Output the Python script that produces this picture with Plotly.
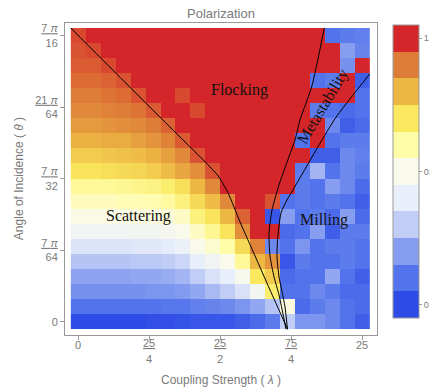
import plotly.graph_objects as go

# ---- grid (coupling strength lambda, angle of incidence theta) ----
lambda_values = [0.0, 1.3158, 2.6316, 3.9474, 5.2632, 6.5789, 7.8947, 9.2105, 10.5263, 11.8421,
                 13.1579, 14.4737, 15.7895, 17.1053, 18.4211, 19.7368, 21.0526, 22.3684, 23.6842, 25.0]
theta_values = [0.0, 0.07234, 0.14468, 0.21702, 0.28936, 0.36170, 0.43404, 0.50638, 0.57871, 0.65105,
                0.72339, 0.79573, 0.86807, 0.94041, 1.01275, 1.08509, 1.15743, 1.22977, 1.30211, 1.37445]

# polarization, one row per theta (bottom row first), one value per lambda
polarization = [
    [0.0, 0.0, 0.0, 0.0, 0.0, 0.01, 0.01, 0.02, 0.03, 0.03, 0.03, 0.05, 0.08, 0.12, 0.3, 0.18, 0.18, 0.15, 0.1, 0.05],
    [0.1, 0.1, 0.1, 0.1, 0.1, 0.1, 0.11, 0.11, 0.13, 0.14, 0.15, 0.18, 0.22, 0.28, 0.52, 0.08, 0.12, 0.15, 0.1, 0.08],
    [0.17, 0.17, 0.17, 0.17, 0.17, 0.18, 0.18, 0.19, 0.22, 0.26, 0.3, 0.36, 0.46, 0.68, 0.1, 0.1, 0.15, 0.12, 0.08, 0.08],
    [0.21, 0.21, 0.21, 0.21, 0.22, 0.22, 0.23, 0.25, 0.3, 0.36, 0.4, 0.48, 0.7, 0.76, 0.08, 0.1, 0.1, 0.22, 0.1, 0.05],
    [0.28, 0.28, 0.28, 0.28, 0.29, 0.29, 0.3, 0.33, 0.4, 0.45, 0.5, 0.62, 0.8, 0.86, 0.03, 0.12, 0.1, 0.1, 0.12, 0.1],
    [0.37, 0.37, 0.37, 0.37, 0.38, 0.38, 0.39, 0.42, 0.5, 0.54, 0.6, 0.73, 0.89, 0.15, 0.1, 0.18, 0.1, 0.12, 0.12, 0.1],
    [0.45, 0.45, 0.45, 0.45, 0.46, 0.46, 0.47, 0.5, 0.56, 0.63, 0.71, 0.87, 1.0, 1.0, 0.08, 0.1, 0.2, 0.05, 0.12, 0.12],
    [0.51, 0.51, 0.51, 0.51, 0.52, 0.52, 0.53, 0.56, 0.66, 0.71, 0.8, 0.93, 1.0, 0.03, 0.2, 0.1, 0.12, 0.08, 0.2, 0.08],
    [0.57, 0.57, 0.57, 0.58, 0.58, 0.59, 0.61, 0.66, 0.73, 0.79, 0.88, 1.0, 1.0, 0.95, 0.1, 0.12, 0.1, 0.12, 0.1, 0.05],
    [0.62, 0.62, 0.62, 0.63, 0.64, 0.65, 0.68, 0.72, 0.8, 0.88, 1.0, 1.0, 1.0, 1.0, 1.0, 0.12, 0.1, 0.2, 0.15, 0.08],
    [0.71, 0.71, 0.72, 0.73, 0.74, 0.76, 0.79, 0.83, 0.87, 0.95, 1.0, 1.0, 1.0, 1.0, 1.0, 0.12, 0.25, 0.1, 0.15, 0.12],
    [0.76, 0.76, 0.77, 0.78, 0.79, 0.81, 0.84, 0.88, 0.95, 1.0, 1.0, 1.0, 1.0, 1.0, 1.0, 1.0, 0.05, 0.05, 0.15, 0.13],
    [0.81, 0.81, 0.82, 0.82, 0.84, 0.86, 0.89, 0.94, 1.0, 1.0, 1.0, 1.0, 1.0, 1.0, 1.0, 0.1, 1.0, 0.1, 0.12, 0.12],
    [0.85, 0.85, 0.86, 0.87, 0.88, 0.9, 0.93, 1.0, 1.0, 1.0, 1.0, 1.0, 1.0, 1.0, 1.0, 1.0, 1.0, 0.15, 0.05, 0.08],
    [0.88, 0.88, 0.89, 0.9, 0.91, 0.94, 1.0, 1.0, 0.96, 1.0, 1.0, 1.0, 1.0, 1.0, 1.0, 1.0, 0.12, 0.1, 0.08, 0.1],
    [0.9, 0.9, 0.91, 0.92, 0.95, 1.0, 1.0, 0.96, 1.0, 1.0, 1.0, 1.0, 1.0, 1.0, 1.0, 1.0, 1.0, 1.0, 1.0, 0.1],
    [0.92, 0.92, 0.93, 0.95, 1.0, 1.0, 1.0, 1.0, 1.0, 1.0, 1.0, 1.0, 1.0, 1.0, 1.0, 1.0, 0.1, 0.12, 1.0, 0.05],
    [0.94, 0.94, 0.96, 1.0, 1.0, 1.0, 1.0, 1.0, 1.0, 1.0, 1.0, 1.0, 1.0, 1.0, 1.0, 1.0, 1.0, 1.0, 0.17, 1.0],
    [0.95, 0.96, 1.0, 1.0, 1.0, 1.0, 1.0, 1.0, 1.0, 1.0, 1.0, 1.0, 1.0, 1.0, 1.0, 1.0, 1.0, 1.0, 0.2, 0.14],
    [0.96, 1.0, 1.0, 1.0, 1.0, 1.0, 1.0, 1.0, 1.0, 1.0, 1.0, 1.0, 1.0, 1.0, 1.0, 1.0, 1.0, 0.1, 0.12, 0.13],
]

# phase boundaries (lambda, theta)
scatter_flock_lam = [-0.658, 3.671, 8.072, 11.153, 12.298, 13.178, 14.234, 15.555, 16.875, 18.42]
scatter_flock_theta = [1.4106, 1.174, 0.9346, 0.7683, 0.701, 0.6192, 0.4793, 0.3159, 0.1524, -0.0362]
flock_meta_lam = [21.655, 20.546, 19.516, 19.076, 18.284, 17.667, 17.051, 16.787, 16.875, 17.227, 17.667, 18.28]
flock_meta_theta = [1.4106, 1.1298, 0.9697, 0.8736, 0.7534, 0.6572, 0.537, 0.4264, 0.3159, 0.2149, 0.1284, -0.0362]
meta_mill_lam = [25.658, 22.597, 19.56, 18.9, 18.371, 17.843, 17.535, 17.491, 17.667, 17.905, 18.195, 18.41]
meta_mill_theta = [1.19, 0.975, 0.6957, 0.6332, 0.5851, 0.5226, 0.3928, 0.3111, 0.2149, 0.1524, 0.0707, -0.0362]

x_tick_vals = [0, 6.25, 12.5, 18.75, 25]
x_tick_num = ["0", "25", "25", "75", "25"]
x_tick_den = ["", "4", "2", "4", ""]
y_tick_vals = [0, 0.343612, 0.687223, 1.030835, 1.374447]
y_tick_text = ["0", "<u>7 <i>π</i></u><br>64", "<u>7 <i>π</i></u><br>32", "<u>21 <i>π</i></u><br>64", "<u>7 <i>π</i></u><br>16"]

region_labels = ["Flocking", "Scattering", "Milling", "Metastability"]
region_lam = [14.23, 5.28, 21.63, 21.5]
region_theta = [1.113, 0.507, 0.4875, 1.031]
region_angle = [0, 0, 0, -59]

colorbar_vals = [0, 0.5, 1]
colorbar_text = ["0", "0.", "1"]

colors = ["#2d4be6", "#5273eb", "#879ef0", "#c0cdf5", "#e8eefa", "#fafaeb",
          "#fffca8", "#fae95f", "#edb744", "#de7d37", "#d4262a"]

zmin, zmax = -0.05, 1.05
smooth_scale = [[0.0, colors[0]]]
for k, c in enumerate(colors):
    smooth_scale.append([(k * 0.1 + 0.05) / 1.1, c])
smooth_scale.append([1.0, colors[-1]])

step_scale = []
for k, c in enumerate(colors):
    step_scale.append([k / 11, c])
    step_scale.append([(k + 1) / 11, c])

gray = "#7a7a7a"
sans = "Liberation Sans, Arial, sans-serif"
serif = "Liberation Serif, Times New Roman, serif"

fig = go.Figure()
fig.add_trace(go.Heatmap(
    x=lambda_values, y=theta_values, z=polarization,
    colorscale=smooth_scale, zmin=zmin, zmax=zmax, showscale=False,
    hoverinfo="skip",
))
fig.add_trace(go.Scatter(
    x=[None], y=[None], mode="markers", showlegend=False, hoverinfo="skip",
    marker=dict(color=[0.5], colorscale=step_scale, cmin=zmin, cmax=zmax, showscale=True,
                colorbar=dict(
                    x=1.0513, xanchor="left", xpad=0, y=0.524, yanchor="middle", ypad=0,
                    len=293, lenmode="pixels", thickness=26, thicknessmode="pixels",
                    outlinecolor="#999999", outlinewidth=1,
                    tickvals=colorbar_vals, ticktext=colorbar_text,
                    ticks="outside", ticklen=3, tickcolor="#999999",
                    tickfont=dict(size=9, color=gray, family=sans),
                )),
))
for lx, ly in [(scatter_flock_lam, scatter_flock_theta),
               (flock_meta_lam, flock_meta_theta),
               (meta_mill_lam, meta_mill_theta)]:
    fig.add_trace(go.Scatter(
        x=lx, y=ly, mode="lines", showlegend=False, hoverinfo="skip",
        line=dict(color="black", width=1, shape="spline", smoothing=0.6),
    ))

annotations = []
for txt, lx, ly, ang in zip(region_labels, region_lam, region_theta, region_angle):
    annotations.append(dict(x=lx, y=ly, xref="x", yref="y", text=txt, showarrow=False,
                            textangle=ang, font=dict(family=serif, size=16, color="#111111")))
# x tick labels (stacked fractions)
for xv, num, den in zip(x_tick_vals, x_tick_num, x_tick_den):
    if den:
        annotations.append(dict(x=xv, y=0, xref="x", yref="paper", text="<u>" + num + "</u>",
                                showarrow=False, xanchor="center", yanchor="middle", yshift=-8,
                                font=dict(family=sans, size=11, color=gray)))
        annotations.append(dict(x=xv, y=0, xref="x", yref="paper", text=den,
                                showarrow=False, xanchor="center", yanchor="middle", yshift=-24,
                                font=dict(family=sans, size=11, color=gray)))
    else:
        annotations.append(dict(x=xv, y=0, xref="x", yref="paper", text=num,
                                showarrow=False, xanchor="center", yanchor="middle", yshift=-10,
                                font=dict(family=sans, size=11, color=gray)))
annotations.append(dict(x=0.5, y=1.032, xref="paper", yref="paper", text="Polarization",
                        showarrow=False, xanchor="center", yanchor="middle",
                        font=dict(family=sans, size=13, color=gray)))
annotations.append(dict(x=0.5, y=-0.144, xref="paper", yref="paper",
                        text="Coupling Strength ( <i>λ</i> )", showarrow=False,
                        xanchor="center", yanchor="middle",
                        font=dict(family=sans, size=12, color=gray)))
annotations.append(dict(x=-0.147, y=0.5, xref="paper", yref="paper",
                        text="Angle of Incidence ( <i>θ</i> )", showarrow=False, textangle=-90,
                        xanchor="center", yanchor="middle",
                        font=dict(family=sans, size=12, color=gray)))

fig.update_layout(
    width=430, height=387,
    margin=dict(l=65, r=53, t=23, b=52, autoexpand=False),
    paper_bgcolor="white", plot_bgcolor="white",
    showlegend=False,
    annotations=annotations,
    xaxis=dict(range=[-1.17, 26.29], tickvals=x_tick_vals, showticklabels=False,
               automargin=False,
               showgrid=False, zeroline=False, showline=True, mirror=True,
               linecolor="#999999", linewidth=1, ticks="outside", ticklen=4,
               tickcolor="#999999"),
    yaxis=dict(range=[-0.0639, 1.4347], tickvals=y_tick_vals, ticktext=y_tick_text,
               automargin=False,
               showgrid=False, zeroline=False, showline=True, mirror=True,
               linecolor="#999999", linewidth=1, ticks="outside", ticklen=4,
               tickcolor="#999999", tickfont=dict(family=sans, size=11, color=gray)),
)

fig.write_html("out.html", config={"displayModeBar": False},
               post_script="document.body.style.margin='0px';")
